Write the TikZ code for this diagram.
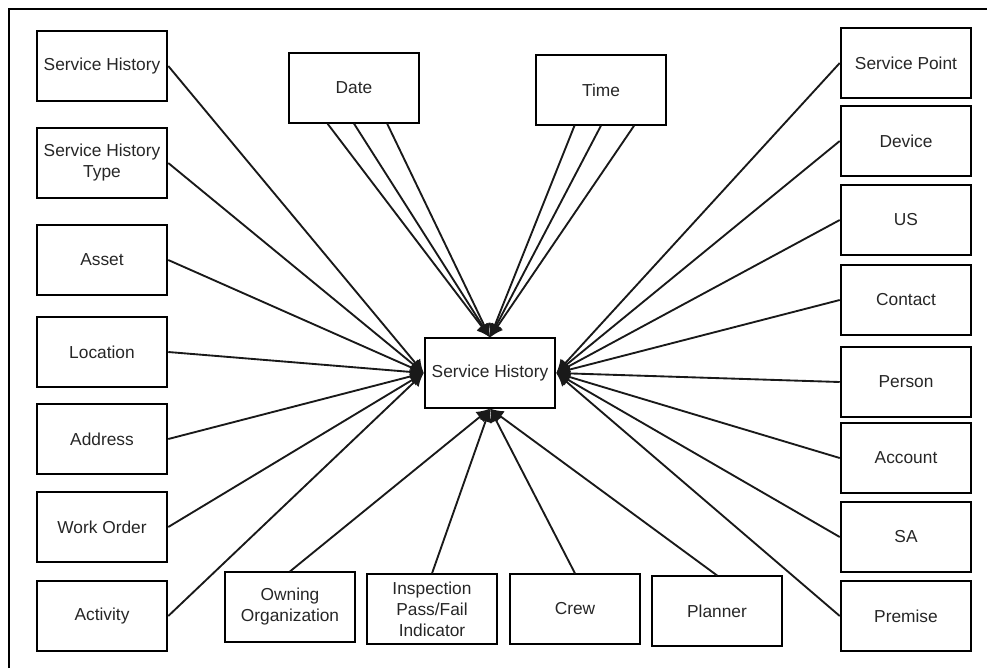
\documentclass[tikz,border=0pt]{standalone}
\usepackage{fontspec}
\setmainfont{Liberation Sans}
\usetikzlibrary{arrows.meta, calc}

\tikzset{
  ent/.style={draw=black, line width=1.4pt, minimum width=98pt, minimum height=52pt,
    align=center, inner sep=1pt, text=black!85, font=\fontsize{13}{15.75}\selectfont},
  rel/.style={draw=black!90, line width=1.4pt, -{Latex[length=10pt,width=10pt]}},
}

\begin{document}
\begin{tikzpicture}[x=0.75pt, y=-0.75pt]
\useasboundingbox (0,0) rectangle (987,668);
%------------------------------
% frame (right and bottom cut off)
%______________________________
\draw[line width=1.1pt] (9,668)--(9,9)--(987,9);
%
\node[ent] (hist) at (490,373) {Service History};
%
% left column
\foreach \nm/\y/\txt in {shist/66/Service History, shtype/163/{Service History\\Type},
    asset/260/Asset, loc/352/Location, addr/439/Address, wo/527/Work Order, act/616/Activity} {
    \node[ent] (\nm) at (102,\y) {\txt};
    \draw[rel] (\nm.east) -- (hist.west);
}
%
% right column
\foreach \nm/\y/\txt in {spt/63/Service Point, dev/141/Device, us/220/US, cont/300/Contact,
    pers/382/Person, acct/458/Account, sa/537/SA, prem/616/Premise} {
    \node[ent] (\nm) at (906,\y) {\txt};
    \draw[rel] (\nm.west) -- (hist.east);
}
%
% top
\node[ent] (date) at (354,88) {Date};
\node[ent] (time) at (601,90) {Time};
\foreach \f in {0.3,0.5,0.75} {
    \draw[rel] ($(date.south west)!\f!(date.south east)$) -- (hist.north);
    \draw[rel] ($(time.south west)!\f!(time.south east)$) -- (hist.north);
}
%
% bottom row
\foreach \nm/\x/\y/\txt in {own/290/607/{Owning\\Organization}, insp/432/609/{Inspection\\Pass/Fail\\Indicator},
    crew/575/609/Crew, plan/717/611/Planner} {
    \node[ent] (\nm) at (\x,\y) {\txt};
    \draw[rel] (\nm.north) -- (hist.south);
}
\end{tikzpicture}
\end{document}
